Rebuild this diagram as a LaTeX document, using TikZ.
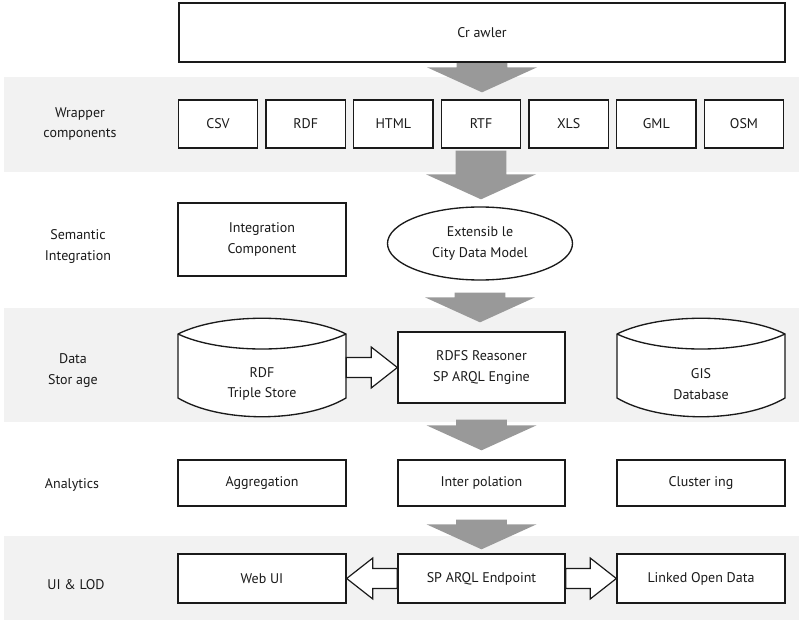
\documentclass[tikz,border=0pt]{standalone}
\usepackage{fontspec}
\setmainfont{PT Sans}
\usetikzlibrary{calc,shapes.geometric}

\definecolor{bandgray}{HTML}{F2F2F2}
\definecolor{flowgray}{HTML}{999999}
\definecolor{ink}{HTML}{1A1A1A}

% wide gray arrow between two layers: #1 start point, #2 tip
\newcommand{\layerarrow}[2]{%
  \fill[flowgray] let \p1=#1, \p2=#2 in
    (\x1-19.1pt,\y1) -- (\x1+19.1pt,\y1) -- (\x1+19.1pt,\y2+18.75pt)
    -- (\x1+41.25pt,\y2+18.75pt) -- (\x1,\y2) -- (\x1-41.25pt,\y2+18.75pt)
    -- (\x1-19.1pt,\y2+18.75pt) -- cycle;}

% hollow horizontal arrow: #1 start point, #2 tip
\newcommand{\hollowarrow}[2]{%
  \draw[ink,line width=0.9pt,fill=white,line join=miter] let \p1=#1, \p2=#2,
    \n1={sign(\x2-\x1)} in
    (\x1,\y1+7.5pt) -- (\x2-\n1*19.5pt,\y1+7.5pt) -- (\x2-\n1*19.5pt,\y1+15.3pt)
    -- (\x2,\y1) -- (\x2-\n1*19.5pt,\y1-15.3pt) -- (\x2-\n1*19.5pt,\y1-7.5pt)
    -- (\x1,\y1-7.5pt) -- cycle;}

\tikzset{
  x=0.75pt, y=-0.75pt,
  every node/.style={font=\fontsize{10.5}{15.5}\selectfont, text=ink, align=center},
  box/.style={draw=ink, line width=1pt, fill=white, inner sep=0pt},
  fmtbox/.style={box, minimum width=59.5pt, minimum height=36pt},
  rowlabel/.style={inner sep=0pt},
  band/.style={fill=bandgray, draw=none},
  store/.style={draw=ink, line width=1pt, fill=white},
}

\begin{document}
\begin{tikzpicture}
\useasboundingbox (0,0) rectangle (799,620);

% layer bands
\fill[band] (4,77) rectangle (799,172);
\fill[band] (4,308) rectangle (799,422);
\fill[band] (4,536) rectangle (799,620);

% layer names
\node[rowlabel] (lwrap) at (80,124) {Wrapper\\components};
\node[rowlabel] (lsem) at (78,246.5) {Semantic\\Integration};
\node[rowlabel] (lstore) at (73,370.5) {Data\\Stor age};
\node[rowlabel] (lana) at (72,485) {Analytics};
\node[rowlabel] (lui) at (76,585) {UI \& LOD};

% crawler
\node[box, minimum width=454.5pt, minimum height=44.25pt] (crawler) at (482,32.5) {Cr awler};

% wrapper components
\node[fmtbox] (csv)  at (218,124)     {CSV};
\node[fmtbox] (rdfw) at (305.67,124)  {RDF};
\node[fmtbox] (html) at (393.33,124)  {HTML};
\node[fmtbox] (rtf)  at (481,124)     {RTF};
\node[fmtbox] (xls)  at (568.67,124)  {XLS};
\node[fmtbox] (gml)  at (656.33,124)  {GML};
\node[fmtbox] (osm)  at (744,124)     {OSM};

% semantic integration
\node[box, minimum width=126pt, minimum height=54.75pt] (integ) at (262,239.5) {Integration\\Component};
\node[draw=ink, line width=1pt, fill=white, ellipse, inner sep=0pt,
      minimum width=138.75pt, minimum height=54.75pt] (cdm) at (480,243.5) {Extensib le\\City Data Model};

% data storage: cylinders
\draw[store] (178,334) .. controls (220,313) and (304,313) .. (346,334) -- (346,398)
  .. controls (304,423) and (220,423) .. (178,398) -- cycle;
\draw[store] (178,334) .. controls (220,354) and (304,354) .. (346,334);
\node[inner sep=0pt, minimum width=126pt] (rdf) at (262,384) {RDF\\Triple Store};

\draw[store] (617,334) .. controls (659,313) and (743,313) .. (785,334) -- (785,398)
  .. controls (743,423) and (659,423) .. (617,398) -- cycle;
\draw[store] (617,334) .. controls (659,354) and (743,354) .. (785,334);
\node[inner sep=0pt, minimum width=126pt] (gis) at (701,384) {GIS\\Database};

\node[box, minimum width=125.25pt, minimum height=53.25pt] (reasoner) at (481.5,367.5) {RDFS Reasoner\\SP ARQL Engine};

% analytics
\node[box, minimum width=126pt, minimum height=34.5pt] (aggr)   at (262,483)   {Aggregation};
\node[box, minimum width=125.25pt, minimum height=34.5pt] (interp) at (481.5,483) {Inter polation};
\node[box, minimum width=126pt, minimum height=34.5pt] (clust)  at (701,483)   {Cluster ing};

% UI and linked open data
\node[box, minimum width=126pt, minimum height=36.75pt] (webui)    at (262,578.5)   {Web UI};
\node[box, minimum width=125.25pt, minimum height=36.75pt] (endpoint) at (481.5,578.5) {SP ARQL Endpoint};
\node[box, minimum width=126pt, minimum height=36.75pt] (lod)      at (701,578.5)   {Linked Open Data};

% flow between layers
\layerarrow{(crawler.south)}{($(rtf.north)+(0,-7)$)}
\layerarrow{($(rtf.south)+(0,2)$)}{($(cdm.north)+(0,-7)$)}
\layerarrow{($(cdm.south)+(0,12)$)}{($(reasoner.north)+(0,-9)$)}
\layerarrow{($(reasoner.south)+(0,16)$)}{($(interp.north)+(0,-9)$)}
\layerarrow{($(interp.south)+(0,13)$)}{($(endpoint.north)+(0,-4)$)}

% redraw the crawler box over the arrow shaft
\node[box, minimum width=454.5pt, minimum height=44.25pt] at (crawler) {Cr awler};

% connectors inside layers
\hollowarrow{(rdf.east |- reasoner.west)}{(reasoner.west)}
\hollowarrow{(endpoint.west)}{(webui.east)}
\hollowarrow{(endpoint.east)}{(lod.west)}
\end{tikzpicture}
\end{document}
